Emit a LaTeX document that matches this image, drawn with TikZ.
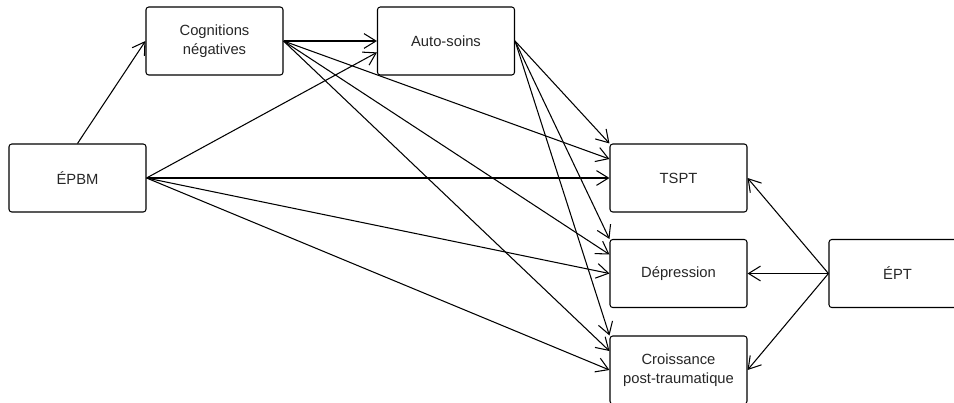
\documentclass[tikz,border=0pt]{standalone}
\usepackage{fontspec}
\setmainfont{Liberation Sans}
\usetikzlibrary{arrows.meta, positioning, calc}

\tikzset{
  box/.style={draw, rounded corners=2pt, minimum width=3.425cm, minimum height=1.7cm,
    align=center, line width=0.75pt, font=\fontsize{10.5}{13.5}\selectfont, text=black!85},
  link/.style={-{Straight Barb[length=8.5pt,width=10.5pt]}, line width=0.75pt}
}

\begin{document}
\begin{tikzpicture}[x=0.025cm, y=-0.025cm]
\useasboundingbox (0,0) rectangle (954,402);
\clip (0,0) rectangle (954,402);
% Draw boxes
\node[box] (epbm) at (77.5,178) {ÉPBM};
\node[box] (cog) at (214.5,41) {Cognitions\\négatives};
\node[box] (auto) at (446,41) {Auto-soins};
\node[box] (tspt) at (678.5,178) {TSPT};
\node[box] (dep) at (678.5,273.5) {Dépression};
\node[box] (crois) at (678.5,370) {Croissance\\post-traumatique};
\node[box] (ept) at (897.5,273.5) {ÉPT};
% Add links
\draw[link] (epbm.north) -- (cog.west);
\draw[link] (cog.east) -- (auto.west);
\draw[link] (epbm.east) -- ($(auto.west)!0.33!(auto.south west)$);
\foreach \t in {tspt,dep,crois} {
    \draw[link] (epbm.east) -- (\t.west);
    \draw[link] (cog.east) -- ($(\t.west)!0.55!(\t.north west)$);
    \draw[link] (auto.east) -- (\t.north west);
    \draw[link] (ept.west) -- (\t.east);
}
\end{tikzpicture}
\end{document}
